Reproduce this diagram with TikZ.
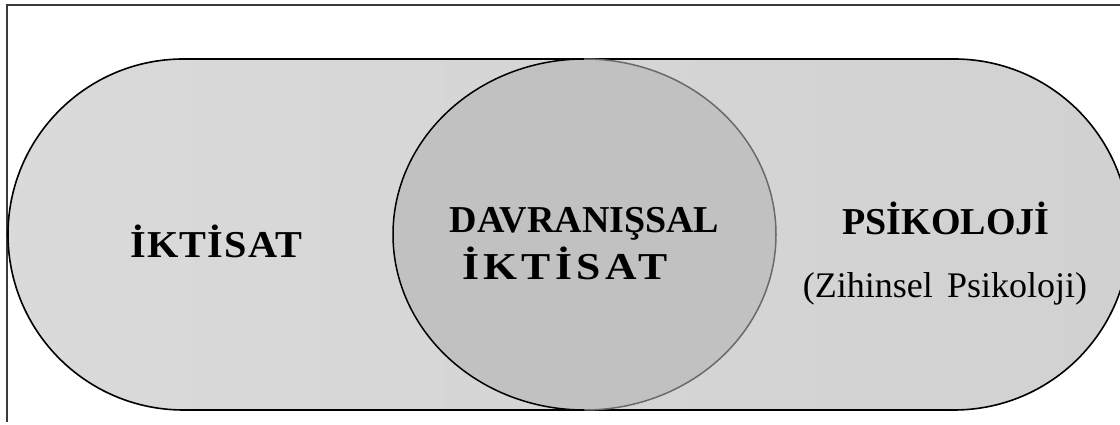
\documentclass[tikz,border=0pt]{standalone}
\usepackage{graphicx}
\usepackage{fontspec}
\setmainfont{Liberation Serif}
\definecolor{frameline}{HTML}{3A3A3A}
\definecolor{fillL}{HTML}{DADADA}
\definecolor{fillR}{HTML}{D1D1D1}
\definecolor{circfill}{HTML}{C1C1C1}
\definecolor{circright}{HTML}{6A6A6A}
\tikzset{
  boldlabel/.style={inner sep=0pt, anchor=base, font=\fontsize{38}{46}\selectfont\bfseries},
  reglabel/.style={inner sep=0pt, anchor=base, font=\fontsize{36}{44}\selectfont},
}
\begin{document}
\begin{tikzpicture}[x=1pt,y=1pt]
\useasboundingbox (0,0) rectangle (1120,425);
\clip (0,0) rectangle (1120,425);
% frame
\draw[frameline, line width=2pt] (7,3) -- (7,420) -- (1125,420);
% stadium
\shade[left color=fillL, right color=fillR, draw=black, line width=1.6pt]
  (183.5,366) -- (954,366) arc[start angle=90, end angle=-90, radius=175.5]
  -- (183.5,15) arc[start angle=270, end angle=90, radius=175.5] -- cycle;
% ellipse
\fill[circfill] (584.5,190.5) ellipse[x radius=191.5, y radius=175.5];
\draw[black, line width=1.5pt] (584.5,366) arc[start angle=90, end angle=270, x radius=191.5, y radius=175.5];
\draw[circright, line width=1.5pt] (584.5,15) arc[start angle=-90, end angle=90, x radius=191.5, y radius=175.5];
% labels
\node[boldlabel, anchor=base west] (ikt) at (130,167) {\scalebox{1.06}[1]{\addfontfeature{LetterSpace=3}İKTİSAT}};
\node[boldlabel] (dav) at (584.5,192) {DAVRANIŞSAL};
\node[boldlabel, anchor=base west] (ikt2) at (462,145) {\scalebox{1.15}[1]{\addfontfeature{LetterSpace=10}İKTİSAT}};
\node[boldlabel] (psi) at (946,190) {PSİKOLOJİ};
\node[reglabel] (zih) at (945,127) {(Zihinsel\hspace{0.15em} Psikoloji)};
\end{tikzpicture}
\end{document}
